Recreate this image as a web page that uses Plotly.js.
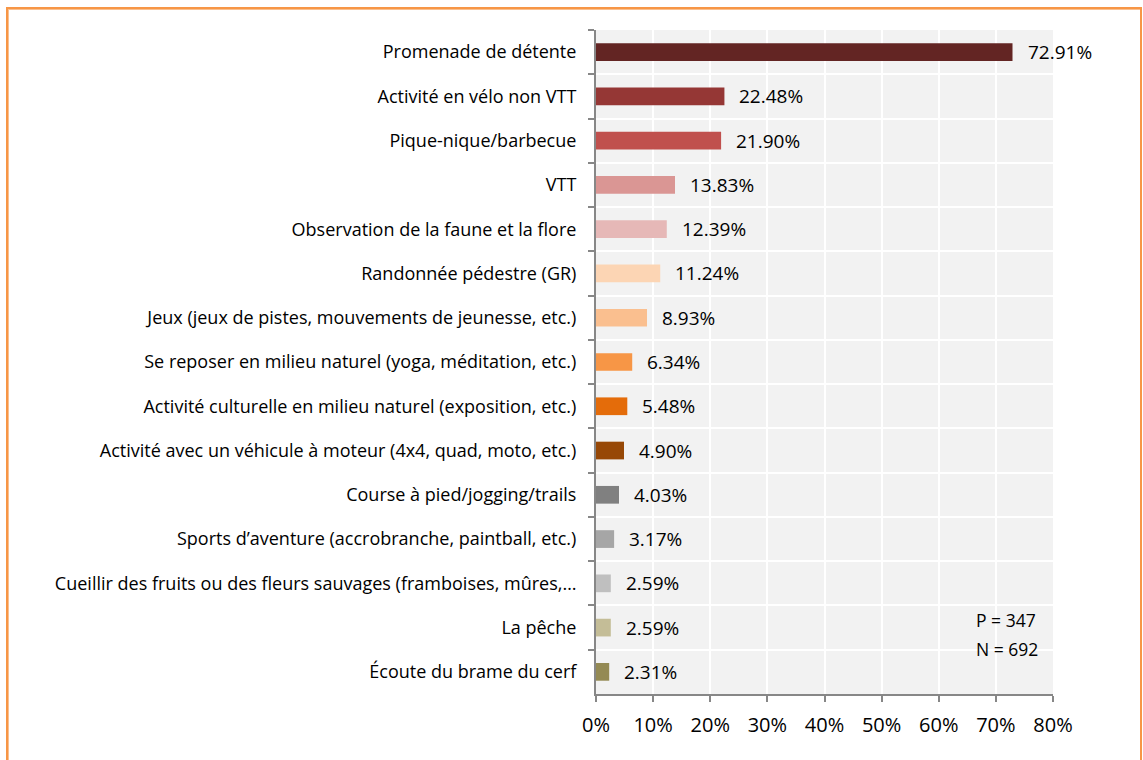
<!DOCTYPE html>
<html>
<head>
<meta charset="utf-8">
<script src="https://cdn.plot.ly/plotly-3.0.1.min.js"></script>
<style>
  html, body { margin: 0; padding: 0; background: #fff; }
  #wrap { position: relative; width: 1143px; height: 760px; overflow: hidden; }
  #chart { position: absolute; left: 0; top: 0; width: 1143px; height: 760px; }
  #frame { position: absolute; left: 6px; top: 7px; width: 1132px; height: 800px;
           border: 2px solid #F79646; box-shadow: inset 1px 1px 0 #FAC090; pointer-events: none; }
</style>
</head>
<body>
<div id="wrap">
  <div id="chart"></div>
  <div id="frame"></div>
</div>
<script>
const categories = [
  "Promenade de détente",
  "Activité en vélo non VTT",
  "Pique-nique/barbecue",
  "VTT",
  "Observation de la faune et la flore",
  "Randonnée pédestre (GR)",
  "Jeux (jeux de pistes, mouvements de jeunesse, etc.)",
  "Se reposer en milieu naturel (yoga, méditation, etc.)",
  "Activité culturelle en milieu naturel (exposition, etc.)",
  "Activité avec un véhicule à moteur (4x4, quad, moto, etc.)",
  "Course à pied/jogging/trails",
  "Sports d’aventure (accrobranche, paintball, etc.)",
  "Cueillir des fruits ou des fleurs sauvages (framboises, mûres,…",
  "La pêche",
  "Écoute du brame du cerf"
];
const values = [72.91, 22.48, 21.90, 13.83, 12.39, 11.24, 8.93, 6.34, 5.48, 4.90, 4.03, 3.17, 2.59, 2.59, 2.31];
const colors = ["#632523", "#953735", "#C0504D", "#DA9694", "#E6B8B7", "#FCD5B4", "#FABF8F",
                "#F79646", "#E46C0A", "#974806", "#808080", "#A6A6A6", "#BFBFBF", "#C4BD97", "#948A54"];
const xTickVals = [0, 10, 20, 30, 40, 50, 60, 70, 80];
const xTickText = ["0%", "10%", "20%", "30%", "40%", "50%", "60%", "70%", "80%"];
const notes = ["P = 347", "N = 692"];

const FONT = "'Open Sans', Lato, sans-serif";

const trace = {
  type: "bar",
  orientation: "h",
  x: values,
  y: categories,
  marker: { color: colors },
  hoverinfo: "skip"
};

const annotations = values.map((v, i) => ({
  x: v, y: categories[i], xref: "x", yref: "y",
  text: v.toFixed(2) + "%",
  showarrow: false, xanchor: "left", yanchor: "middle",
  xshift: 13,
  font: { family: FONT, size: 19, color: "#000" }
}));
const notePos = [0.111, 0.068];
notes.forEach((t, i) => annotations.push({
  xref: "paper", yref: "paper", x: 0.827, y: notePos[i], xanchor: "left", yanchor: "middle",
  text: t, showarrow: false, align: "left",
  font: { family: FONT, size: 17.5, color: "#000" }
}));

const layout = {
  width: 1143, height: 760,
  margin: { l: 596, r: 90, t: 30, b: 66, pad: 0 },
  paper_bgcolor: "#FFFFFF",
  plot_bgcolor: "#F2F2F2",
  bargap: 0.6,
  showlegend: false,
  font: { family: FONT, size: 18, color: "#000" },
  xaxis: {
    range: [0, 80],
    tickvals: xTickVals, ticktext: xTickText,
    showgrid: true, gridcolor: "#FFFFFF", gridwidth: 2,
    zeroline: false,
    showline: true, linecolor: "#878787", linewidth: 2,
    ticks: "outside", ticklen: 6, tickcolor: "#878787", tickwidth: 2,
    ticklabelstandoff: 6,
    tickfont: { family: FONT, size: 20, color: "#000" },
    fixedrange: true
  },
  yaxis: {
    type: "category",
    autorange: "reversed",
    tickson: "boundaries",
    showgrid: true, gridcolor: "#FFFFFF", gridwidth: 2,
    showline: true, linecolor: "#878787", linewidth: 2,
    ticks: "outside", ticklen: 6, tickcolor: "#878787", tickwidth: 2,
    ticklabelstandoff: 14,
    tickfont: { family: FONT, size: 18, color: "#000" },
    fixedrange: true
  },
  annotations: annotations
};

Plotly.newPlot("chart", [trace], layout, { displayModeBar: false, staticPlot: true });
</script>
</body>
</html>
